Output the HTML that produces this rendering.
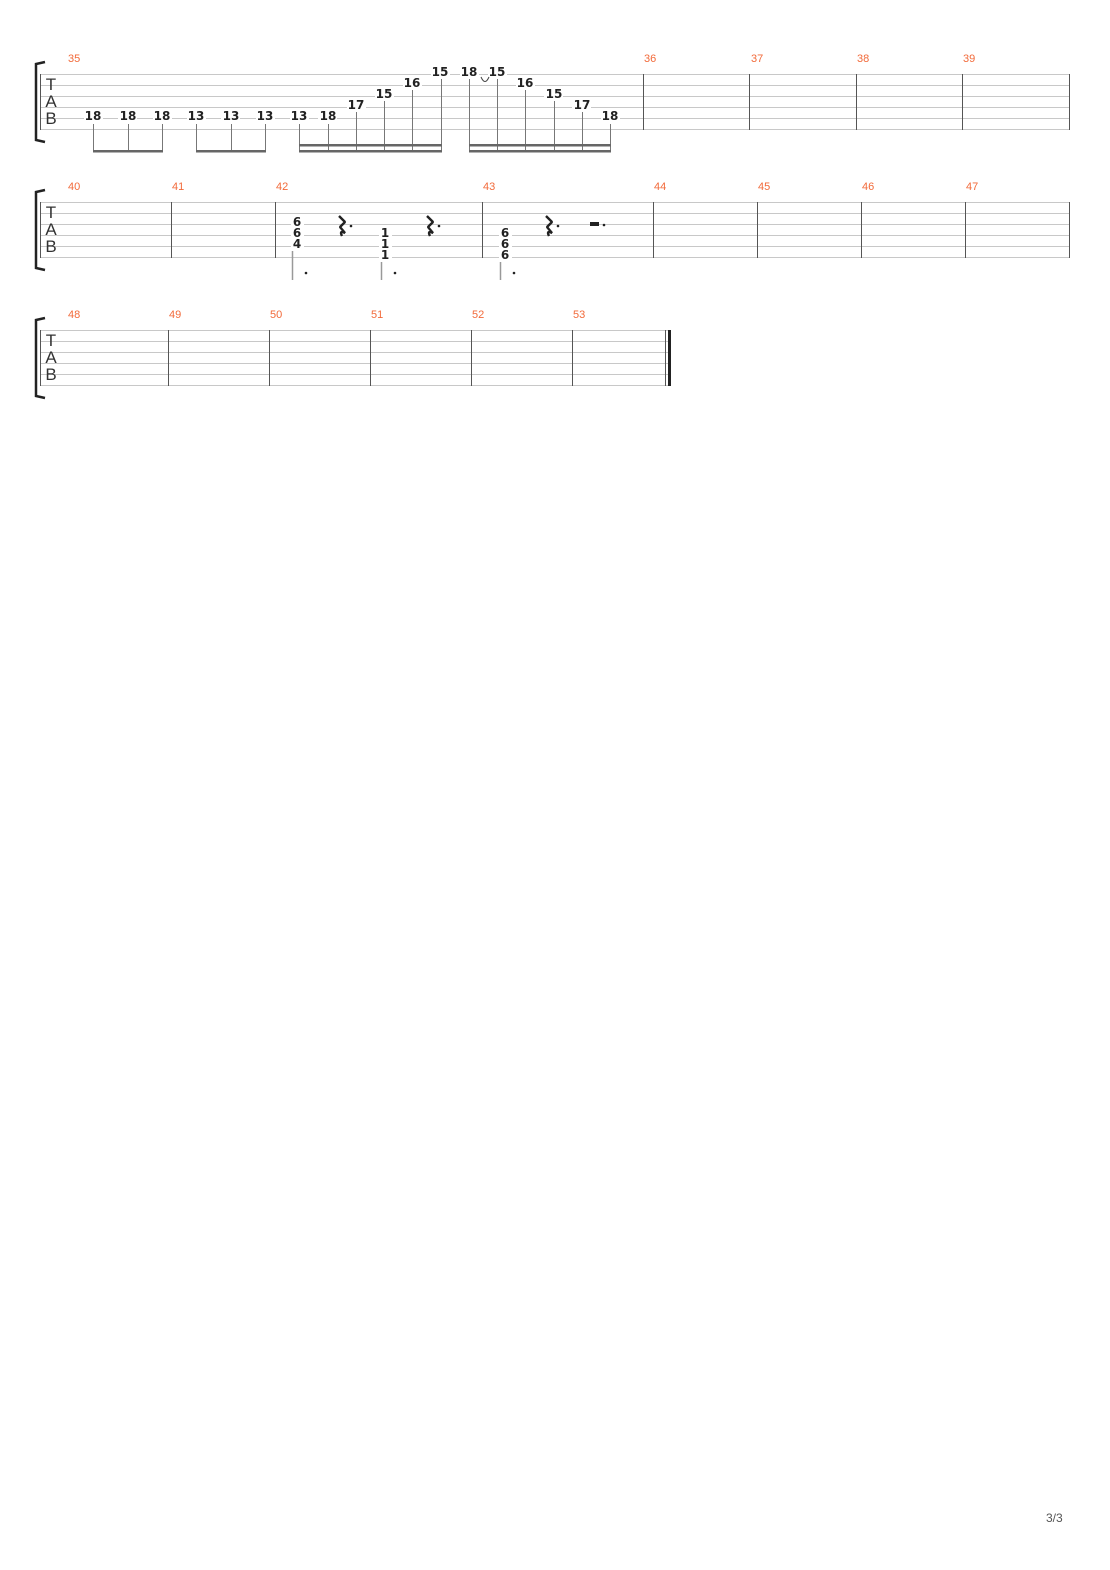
<!DOCTYPE html>
<html><head><meta charset="utf-8"><style>
body{margin:0;background:#fff;}
svg{display:block}
.n{font-family:"DejaVu Sans","Liberation Sans",sans-serif;font-weight:bold;font-size:12px;fill:#222;text-anchor:middle;dominant-baseline:central}
.c{font-family:"DejaVu Sans","Liberation Sans",sans-serif;font-weight:bold;font-size:12px;fill:#222;text-anchor:middle;dominant-baseline:central}
.m{font-family:"Liberation Sans",sans-serif;font-size:11px;fill:#f26a3a}
.tab{font-family:"Liberation Sans",sans-serif;font-size:17px;fill:#333;text-anchor:middle}
</style></head><body>
<svg width="1110" height="1570" viewBox="0 0 1110 1570" xmlns="http://www.w3.org/2000/svg">
<defs>
<g id="rest"><path d="M-3,-9 L3,-3 L-2,2 L3,8 Q-3,5 0,11" fill="none" stroke="#222" stroke-width="2.4" stroke-linejoin="bevel"/></g>
</defs>
<g stroke="#c8c8c8" stroke-width="1">
<line x1="40" y1="74.5" x2="1069" y2="74.5"/><line x1="40" y1="85.5" x2="1069" y2="85.5"/><line x1="40" y1="96.5" x2="1069" y2="96.5"/><line x1="40" y1="107.5" x2="1069" y2="107.5"/><line x1="40" y1="118.5" x2="1069" y2="118.5"/><line x1="40" y1="129.5" x2="1069" y2="129.5"/>
<line x1="40" y1="202.5" x2="1069" y2="202.5"/><line x1="40" y1="213.5" x2="1069" y2="213.5"/><line x1="40" y1="224.5" x2="1069" y2="224.5"/><line x1="40" y1="235.5" x2="1069" y2="235.5"/><line x1="40" y1="246.5" x2="1069" y2="246.5"/><line x1="40" y1="257.5" x2="1069" y2="257.5"/>
<line x1="40" y1="330.5" x2="669" y2="330.5"/><line x1="40" y1="341.5" x2="669" y2="341.5"/><line x1="40" y1="352.5" x2="669" y2="352.5"/><line x1="40" y1="363.5" x2="669" y2="363.5"/><line x1="40" y1="374.5" x2="669" y2="374.5"/><line x1="40" y1="385.5" x2="669" y2="385.5"/>
</g>
<g stroke="#555" stroke-width="1">
<line x1="40.5" y1="74" x2="40.5" y2="130"/><line x1="643.5" y1="74" x2="643.5" y2="130"/><line x1="749.5" y1="74" x2="749.5" y2="130"/><line x1="856.5" y1="74" x2="856.5" y2="130"/><line x1="962.5" y1="74" x2="962.5" y2="130"/><line x1="1069.5" y1="74" x2="1069.5" y2="130"/>
<line x1="40.5" y1="202" x2="40.5" y2="258"/><line x1="171.5" y1="202" x2="171.5" y2="258"/><line x1="275.5" y1="202" x2="275.5" y2="258"/><line x1="482.5" y1="202" x2="482.5" y2="258"/><line x1="653.5" y1="202" x2="653.5" y2="258"/><line x1="757.5" y1="202" x2="757.5" y2="258"/><line x1="861.5" y1="202" x2="861.5" y2="258"/><line x1="965.5" y1="202" x2="965.5" y2="258"/><line x1="1069.5" y1="202" x2="1069.5" y2="258"/>
<line x1="40.5" y1="330" x2="40.5" y2="386"/><line x1="168.5" y1="330" x2="168.5" y2="386"/><line x1="269.5" y1="330" x2="269.5" y2="386"/><line x1="370.5" y1="330" x2="370.5" y2="386"/><line x1="471.5" y1="330" x2="471.5" y2="386"/><line x1="572.5" y1="330" x2="572.5" y2="386"/><line x1="665.5" y1="330" x2="665.5" y2="386"/>
</g>
<rect x="668" y="330" width="3" height="56" fill="#222"/>
<g fill="none" stroke="#222" stroke-width="2.5">
<path d="M45,62 L36,64 L36,140 L45,142"/>
<path d="M45,190 L36,192 L36,268 L45,270"/>
<path d="M45,318 L36,320 L36,396 L45,398"/>
</g>
<g class="tab"><text x="51" y="90">T</text><text x="51" y="107">A</text><text x="51" y="124">B</text>
<text x="51" y="218">T</text><text x="51" y="235">A</text><text x="51" y="252">B</text>
<text x="51" y="346">T</text><text x="51" y="363">A</text><text x="51" y="380">B</text></g>
<g class="m">
<text x="68" y="62">35</text><text x="644" y="62">36</text><text x="751" y="62">37</text><text x="857" y="62">38</text><text x="963" y="62">39</text>
<text x="68" y="190">40</text><text x="172" y="190">41</text><text x="276" y="190">42</text><text x="483" y="190">43</text><text x="654" y="190">44</text><text x="758" y="190">45</text><text x="862" y="190">46</text><text x="966" y="190">47</text>
<text x="68" y="318">48</text><text x="169" y="318">49</text><text x="270" y="318">50</text><text x="371" y="318">51</text><text x="472" y="318">52</text><text x="573" y="318">53</text>
</g>
<g fill="#fff">
<rect x="84" y="110" width="19" height="12"/><rect x="118" y="110" width="19" height="12"/><rect x="153" y="110" width="19" height="12"/>
<rect x="187" y="110" width="19" height="12"/><rect x="221" y="110" width="19" height="12"/><rect x="256" y="110" width="19" height="12"/>
<rect x="290" y="110" width="19" height="12"/><rect x="318" y="110" width="19" height="12"/><rect x="347" y="99" width="19" height="12"/>
<rect x="375" y="88" width="19" height="12"/><rect x="403" y="77" width="19" height="12"/><rect x="431" y="66" width="19" height="12"/>
<rect x="460" y="66" width="19" height="12"/><rect x="488" y="66" width="19" height="12"/><rect x="516" y="77" width="19" height="12"/>
<rect x="544" y="88" width="19" height="12"/><rect x="572" y="99" width="19" height="12"/><rect x="601" y="110" width="19" height="12"/>
</g>
<g class="n">
<text x="93" y="116">18</text><text x="128" y="116">18</text><text x="162" y="116">18</text>
<text x="196" y="116">13</text><text x="231" y="116">13</text><text x="265" y="116">13</text>
<text x="299" y="116">13</text><text x="328" y="116">18</text><text x="356" y="105">17</text>
<text x="384" y="94">15</text><text x="412" y="83">16</text><text x="440" y="72">15</text>
<text x="469" y="72">18</text><text x="497" y="72">15</text><text x="525" y="83">16</text>
<text x="554" y="94">15</text><text x="582" y="105">17</text><text x="610" y="116">18</text>
</g>
<path d="M481,77 Q485,86 489,77" fill="none" stroke="#444" stroke-width="1"/>
<g stroke="#777" stroke-width="1">
<line x1="93.5" y1="124" x2="93.5" y2="152"/><line x1="128.5" y1="124" x2="128.5" y2="152"/><line x1="162.5" y1="124" x2="162.5" y2="152"/>
<line x1="196.5" y1="124" x2="196.5" y2="152"/><line x1="231.5" y1="124" x2="231.5" y2="152"/><line x1="265.5" y1="124" x2="265.5" y2="152"/>
<line x1="299.5" y1="124" x2="299.5" y2="152"/><line x1="328.5" y1="124" x2="328.5" y2="152"/><line x1="356.5" y1="112" x2="356.5" y2="152"/>
<line x1="384.5" y1="101" x2="384.5" y2="152"/><line x1="412.5" y1="90" x2="412.5" y2="152"/><line x1="441.5" y1="79" x2="441.5" y2="152"/>
<line x1="469.5" y1="79" x2="469.5" y2="152"/><line x1="497.5" y1="79" x2="497.5" y2="152"/><line x1="525.5" y1="90" x2="525.5" y2="152"/>
<line x1="554.5" y1="101" x2="554.5" y2="152"/><line x1="582.5" y1="112" x2="582.5" y2="152"/><line x1="610.5" y1="124" x2="610.5" y2="152"/>
</g>
<g fill="#666">
<rect x="93" y="150" width="70" height="2.5"/><rect x="196" y="150" width="70" height="2.5"/>
<rect x="299" y="144" width="143" height="2.5"/><rect x="299" y="150" width="143" height="2.5"/>
<rect x="469" y="144" width="142" height="2.5"/><rect x="469" y="150" width="142" height="2.5"/>
</g>
<g fill="#fff">
<rect x="291" y="216" width="13" height="33"/><rect x="379" y="227" width="13" height="33"/><rect x="499" y="227" width="13" height="33"/>
</g>
<g class="c">
<text x="297" y="222">6</text><text x="297" y="233">6</text><text x="297" y="244">4</text>
<text x="385" y="233">1</text><text x="385" y="244">1</text><text x="385" y="255">1</text>
<text x="505" y="233">6</text><text x="505" y="244">6</text><text x="505" y="255">6</text>
</g>
<use href="#rest" x="342" y="225"/><use href="#rest" x="430" y="225"/><use href="#rest" x="549" y="225"/>
<g fill="#222">
<circle cx="351" cy="226" r="1.3"/><circle cx="439" cy="226" r="1.3"/><circle cx="558" cy="226" r="1.3"/>
<rect x="590" y="222" width="9" height="4"/><circle cx="604" cy="225" r="1.3"/>
<circle cx="306" cy="273" r="1.3"/><circle cx="395" cy="273" r="1.3"/><circle cx="514" cy="273" r="1.3"/>
</g>
<g stroke="#999" stroke-width="1.5">
<line x1="292.5" y1="251" x2="292.5" y2="280"/><line x1="381.5" y1="262" x2="381.5" y2="280"/><line x1="500.5" y1="262" x2="500.5" y2="280"/>
</g>
<text x="1046" y="1522" font-family="Liberation Sans, sans-serif" font-size="12" fill="#555">3/3</text>
</svg>
</body></html>
